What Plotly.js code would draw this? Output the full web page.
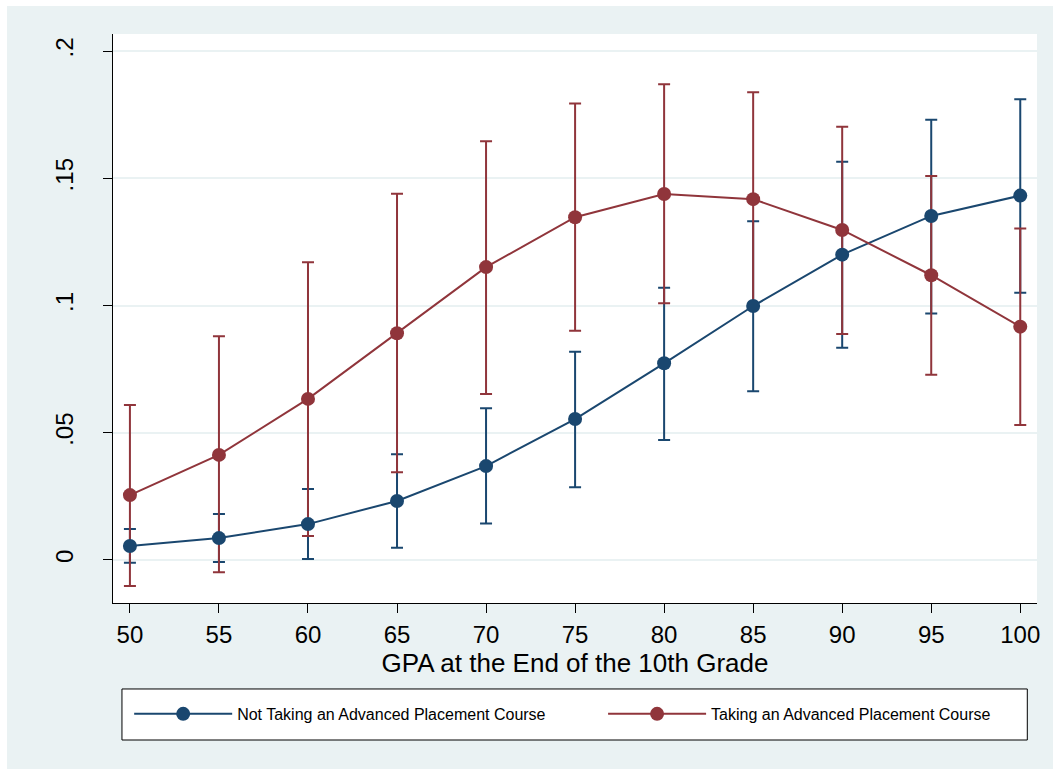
<!DOCTYPE html>
<html>
<head>
<meta charset="utf-8">
<script src="https://cdn.plot.ly/plotly-3.0.1.min.js"></script>
<style>
html,body{margin:0;padding:0;background:#ffffff;}
#chart{position:absolute;left:7px;top:6px;width:1046px;height:763px;}
</style>
</head>
<body>
<div id="chart"></div>
<script>
// GPA categories
var gpa = [50, 55, 60, 65, 70, 75, 80, 85, 90, 95, 100];

// Not taking an AP course
var notAP      = [0.0055, 0.0086, 0.0141, 0.0232, 0.0369, 0.0554, 0.0773, 0.0998, 0.1200, 0.1352, 0.1432];
var notAPLower = [-0.0011, -0.0008, 0.0004, 0.0048, 0.0143, 0.0286, 0.0472, 0.0663, 0.0834, 0.0969, 0.1050];
var notAPUpper = [0.0122, 0.0181, 0.0279, 0.0416, 0.0596, 0.0818, 0.1070, 0.1331, 0.1565, 0.1730, 0.1811];

// Taking an AP course
var ap      = [0.0255, 0.0413, 0.0633, 0.0891, 0.1151, 0.1347, 0.1438, 0.1418, 0.1297, 0.1119, 0.0917];
var apLower = [-0.0102, -0.0048, 0.0094, 0.0345, 0.0652, 0.0901, 0.1009, 0.0998, 0.0888, 0.0728, 0.0530];
var apUpper = [0.0609, 0.0879, 0.1170, 0.1439, 0.1646, 0.1794, 0.1870, 0.1838, 0.1703, 0.1509, 0.1303];

var yTickVals = [0, 0.05, 0.1, 0.15, 0.2];
var yTickText = ["0", ".05", ".1", ".15", ".2"];
var xTickVals = [50, 55, 60, 65, 70, 75, 80, 85, 90, 95, 100];

var names = ["Not Taking an Advanced Placement Course", "Taking an Advanced Placement Course"];
var blue = "#1a476f", red = "#90353b";

function diff(a, b) { return a.map(function (v, i) { return v - b[i]; }); }

function errTrace(y, lo, hi, color) {
  return {
    x: gpa, y: y, type: "scatter", mode: "markers",
    marker: {size: 1, color: "rgba(0,0,0,0)"},
    error_y: {type: "data", symmetric: false, array: diff(hi, y), arrayminus: diff(y, lo),
              color: color, thickness: 2, width: 6},
    showlegend: false, hoverinfo: "skip"
  };
}
function lineTrace(y, color, name, legendId) {
  return {
    x: gpa, y: y, type: "scatter", mode: "lines+markers", name: name, legend: legendId,
    line: {color: color, width: 2},
    marker: {color: color, size: 14}
  };
}

var data = [
  errTrace(notAP, notAPLower, notAPUpper, blue),
  errTrace(ap, apLower, apUpper, red),
  lineTrace(notAP, blue, names[0], "legend"),
  lineTrace(ap, red, names[1], "legend2")
];

var font = "Liberation Sans, Arial, sans-serif";
function legendAt(x) {
  return {
    orientation: "h", x: x, xanchor: "left", y: -0.195, yanchor: "middle",
    bgcolor: "rgba(0,0,0,0)", borderwidth: 0, itemwidth: 98,
    font: {size: 16, family: font}
  };
}
var layout = {
  width: 1046, height: 763,
  paper_bgcolor: "#eaf2f3", plot_bgcolor: "#ffffff",
  margin: {l: 106, r: 16, t: 28, b: 166},
  font: {family: font, color: "#000000"},
  xaxis: {
    range: [49.05, 100.94], tickvals: xTickVals, ticks: "outside", ticklen: 9, tickcolor: "#000",
    tickwidth: 1, showline: true, linecolor: "#000", linewidth: 1, showgrid: false, zeroline: false,
    tickfont: {size: 24, family: font}, ticklabelstandoff: 1,
    title: {text: "GPA at the End of the 10th Grade", font: {size: 26, family: font}, standoff: 0}
  },
  yaxis: {
    range: [-0.0169, 0.2067], tickvals: yTickVals, ticktext: yTickText, tickangle: -90,
    ticks: "outside", ticklen: 9, tickcolor: "#000", tickwidth: 1,
    showline: true, linecolor: "#000", linewidth: 1,
    showgrid: true, gridcolor: "#eaf2f3", gridwidth: 2, zeroline: false,
    tickfont: {size: 24, family: font}, ticklabelstandoff: 20
  },
  showlegend: true,
  legend: legendAt(0.0175),
  legend2: legendAt(0.5304),
  shapes: [{
    type: "rect", xref: "paper", yref: "paper",
    x0: 0.0097, x1: 0.9895, y0: -0.2408, y1: -0.1511,
    line: {color: "#000", width: 1}, fillcolor: "#ffffff", layer: "below"
  }]
};

Plotly.newPlot("chart", data, layout, {displayModeBar: false, staticPlot: true});
</script>
</body>
</html>
